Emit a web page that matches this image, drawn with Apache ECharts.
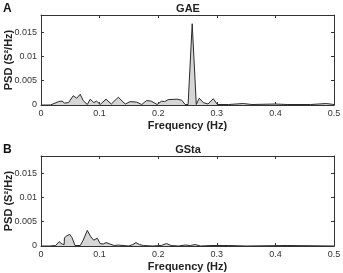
<!DOCTYPE html>
<html><head><meta charset="utf-8">
<script src="https://cdn.jsdelivr.net/npm/echarts@6/dist/echarts.min.js"></script>
<style>html,body{margin:0;padding:0;background:#fff}#c{width:343px;height:273px}</style>
</head><body><div id="c"></div>
<script>
const freqA = [0,0.008,0.016,0.024,0.030,0.036,0.040,0.047,0.055,0.061,0.067,0.072,0.075,0.079,0.084,0.090,0.095,0.101,0.111,0.120,0.125,0.132,0.140,0.144,0.152,0.163,0.172,0.180,0.188,0.198,0.206,0.211,0.217,0.232,0.240,0.246,0.251,0.258,0.265,0.270,0.277,0.285,0.294,0.301,0.320,0.345,0.360,0.400,0.420,0.460,0.487,0.500];
const psdA  = [0,0,0,0.0004,0.0007,0.0008,0.0004,0.0005,0.0019,0.0014,0.0022,0.0009,0.0010,0.0001,0.0012,0.0005,0.0008,0.0001,0.0012,0.0002,0.0008,0.0016,0.0006,0.0002,0.0007,0.0006,0.0001,0.0009,0.0008,0.0001,0.0008,0.0007,0.0011,0.0012,0.0010,0.0001,0.0001,0.0167,0.0001,0.0014,0.0005,0.0002,0.0013,0.0001,0.0001,0.0003,0.0001,0.0002,0.0001,0.0001,0.0003,0.0001];
const freqB = [0,0.015,0.025,0.031,0.036,0.0395,0.0400,0.044,0.049,0.053,0.058,0.067,0.072,0.079,0.085,0.090,0.096,0.101,0.106,0.111,0.118,0.125,0.132,0.140,0.150,0.157,0.162,0.168,0.175,0.190,0.205,0.214,0.222,0.235,0.246,0.255,0.263,0.272,0.290,0.320,0.350,0.420,0.500];
const psdB  = [0,0,0.0001,0.0009,0.0004,0.0003,0.0017,0.0021,0.0024,0.0017,0.0001,0.0001,0.0012,0.0032,0.0019,0.0012,0.0016,0.0005,0.0004,0.0007,0.0004,0.0001,0.0002,0.0001,0,0.0003,0.0007,0.0003,0.0001,0,0.0001,0.0005,0.0001,0,0.0002,0.0001,0.0003,0,0.0001,0.0001,0,0.0001,0];
const xTicks = [0,0.1,0.2,0.3,0.4,0.5];
const yTicks = [0,0.005,0.01,0.015];
const titles = ['GAE','GSta'];
const letters = ['A','B'];

const FONT = 'Liberation Sans';
const axisCol = '#333';
function pairs(f,v){return f.map((x,i)=>[x,v[i]]);}
function xAx(gi, pos, show){
  return {type:'value', gridIndex:gi, position:pos, min:0, max:0.5, interval:0.1,
    axisLine:{show:true,onZero:false,lineStyle:{color:axisCol,width:1}},
    axisTick:{show:true,inside:true,length:3,lineStyle:{color:axisCol}},
    axisLabel:{show:show,color:'#333',fontFamily:FONT,fontSize:9,margin:4,
      formatter:v=>xTicks.indexOf(Math.round(v*10)/10)>=0?String(Math.round(v*10)/10):''},
    splitLine:{show:false},
    name: show?'Frequency (Hz)':'', nameLocation:'middle', nameGap:15, nameMoveOverlap:false,
    nameTextStyle:{fontFamily:FONT,fontWeight:'bold',fontSize:11,color:'#222'}};
}
function yAx(gi, pos, show){
  return {type:'value', gridIndex:gi, position:pos, min:0, max:0.0185, interval:0.005,
    axisLine:{show:true,onZero:false,lineStyle:{color:axisCol,width:1}},
    axisTick:{show:true,inside:true,length:3,lineStyle:{color:axisCol}},
    axisLabel:{show:show,color:'#333',fontFamily:FONT,fontSize:9,margin:4,showMaxLabel:false,
      formatter:v=>{const r=Math.round(v*1000)/1000; return yTicks.indexOf(r)>=0?String(r):'';}},
    splitLine:{show:false},
    name: show?'PSD (S²/Hz)':'', nameLocation:'middle', nameGap:27, nameMoveOverlap:false,
    nameTextStyle:{fontFamily:FONT,fontWeight:'bold',fontSize:11,color:'#222'}};
}
const grids=[
  {left:41,right:9,top:15,height:90,containLabel:false,outerBoundsMode:'none'},
  {left:41,right:9,top:156,height:90,containLabel:false,outerBoundsMode:'none'}];
const option={
  animation:false,
  title:[
    {text:titles[0],left:188,top:3,padding:0,textAlign:'center',textStyle:{fontFamily:FONT,fontWeight:'bold',fontSize:11,color:'#222'}},
    {text:titles[1],left:188,top:144,padding:0,textAlign:'center',textStyle:{fontFamily:FONT,fontWeight:'bold',fontSize:11,color:'#222'}},
    {text:letters[0],left:3,top:3,padding:0,textStyle:{fontFamily:FONT,fontWeight:'bold',fontSize:12,color:'#111'}},
    {text:letters[1],left:3,top:144,padding:0,textStyle:{fontFamily:FONT,fontWeight:'bold',fontSize:12,color:'#111'}}
  ],
  grid:grids,
  xAxis:[xAx(0,'bottom',true),xAx(0,'top',false),xAx(1,'bottom',true),xAx(1,'top',false)],
  yAxis:[yAx(0,'left',true),yAx(0,'right',false),yAx(1,'left',true),yAx(1,'right',false)],
  series:[
    {type:'line',xAxisIndex:0,yAxisIndex:0,data:pairs(freqA,psdA),symbol:'none',
     lineStyle:{color:'#2a2a2a',width:1},areaStyle:{color:'#d6d6d6',opacity:1}},
    {type:'line',xAxisIndex:2,yAxisIndex:2,data:pairs(freqB,psdB),symbol:'none',
     lineStyle:{color:'#2a2a2a',width:1},areaStyle:{color:'#d6d6d6',opacity:1}}
  ]
};
echarts.init(document.getElementById('c'),null,{renderer:'canvas'}).setOption(option);
</script></body></html>
